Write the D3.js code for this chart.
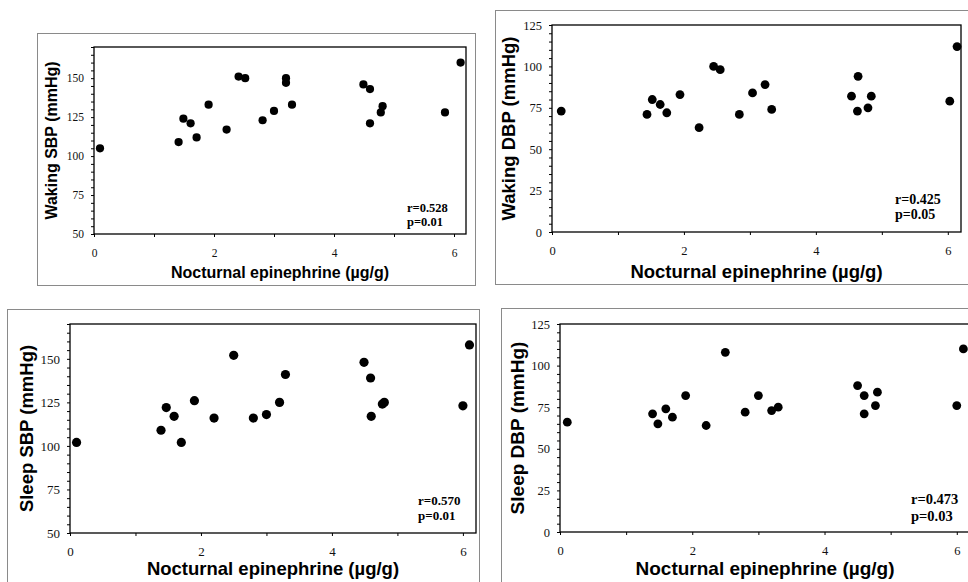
<!DOCTYPE html>
<html>
<head>
<meta charset="utf-8">
<script src="https://cdn.jsdelivr.net/npm/d3@7"></script>
<style>
  body { margin: 0; background: #fff; }
  svg { display: block; }
</style>
</head>
<body>
<svg id="chart" width="968" height="582"></svg>
<script>
  // nocturnal epinephrine (x) vs blood pressure (y), one pair of arrays per panel
  var wakeSbpX = [0.1, 1.41, 1.49, 1.61, 1.71, 1.91, 2.21, 2.41, 2.52, 2.81, 3.0, 3.2, 3.2, 3.3, 4.49, 4.6, 4.6, 4.78, 4.81, 5.85, 6.11];
  var wakeSbpY = [105, 109, 124, 121, 112, 133, 117, 151, 150, 123, 129, 150, 147, 133, 146, 143, 121, 128, 132, 128, 160];

  var wakeDbpX = [0.14, 1.44, 1.52, 1.64, 1.74, 1.94, 2.23, 2.45, 2.55, 2.84, 3.04, 3.23, 3.33, 4.54, 4.63, 4.64, 4.79, 4.84, 6.03, 6.14];
  var wakeDbpY = [73, 71, 80, 77, 72, 83, 63, 100, 98, 71, 84, 89, 74, 82, 73, 94, 75, 82, 79, 112];

  var sleepSbpX = [0.1, 1.39, 1.47, 1.59, 1.7, 1.9, 2.2, 2.5, 2.8, 3.0, 3.2, 3.29, 4.49, 4.59, 4.6, 4.77, 4.8, 6.0, 6.1];
  var sleepSbpY = [102, 109, 122, 117, 102, 126, 116, 152, 116, 118, 125, 141, 148, 139, 117, 124, 125, 123, 158];

  var sleepDbpX = [0.11, 1.4, 1.48, 1.6, 1.7, 1.9, 2.21, 2.5, 2.8, 3.0, 3.2, 3.3, 4.5, 4.6, 4.6, 4.77, 4.8, 6.0, 6.1];
  var sleepDbpY = [66, 71, 65, 74, 69, 82, 64, 108, 72, 82, 73, 75, 88, 82, 71, 76, 84, 76, 110];

  // tick labels and texts
  var xTickLabels = [0, 2, 4, 6];
  var sbpTickLabels = [50, 75, 100, 125, 150];
  var dbpTickLabels = [0, 25, 50, 75, 100, 125];
  var xTitle = "Nocturnal epinephrine (µg/g)";
  var yTitles = ["Waking SBP (mmHg)", "Waking DBP (mmHg)", "Sleep SBP (mmHg)", "Sleep DBP (mmHg)"];
  var rTexts = ["r=0.528", "r=0.425", "r=0.570", "r=0.473"];
  var pTexts = ["p=0.01", "p=0.05", "p=0.01", "p=0.03"];

  // layout of each scanned panel
  var panels = [
    { xs: wakeSbpX, ys: wakeSbpY, ticks: sbpTickLabels, yDom: [50, 170],
      l: 94, t: 47, r: 466, b: 234, box: [37, 33, 475, 285],
      title: 16, tick: 11.5, stat: 12.5, dot: 4.1, statDx: 59, statDy: [22, 8], xtDy: 44 },
    { xs: wakeDbpX, ys: wakeDbpY, ticks: dbpTickLabels, yDom: [0, 125],
      l: 552, t: 25, r: 961, b: 232, box: [495, 10, 990, 284],
      title: 18.5, tick: 12.5, stat: 14, dot: 4.4, statDx: 66, statDy: [28, 13], xtDy: 46 },
    { xs: sleepSbpX, ys: sleepSbpY, ticks: sbpTickLabels, yDom: [50, 170],
      l: 70, t: 324, r: 476, b: 533, box: [7, 309, 479, 600],
      title: 18.5, tick: 13, stat: 13, dot: 4.6, statDx: 58, statDy: [28, 13], xtDy: 42 },
    { xs: sleepDbpX, ys: sleepDbpY, ticks: dbpTickLabels, yDom: [0, 125],
      l: 560, t: 324, r: 970, b: 532, box: [501, 308, 990, 600],
      title: 19, tick: 12.5, stat: 14.5, dot: 4.4, statDx: 59, statDy: [28, 11], xtDy: 43 }
  ];

  var svg = d3.select("#chart");

  panels.forEach(function(p, i) {
    var g = svg.append("g");

    // outer frame around the panel
    g.append("rect")
      .attr("x", p.box[0] + 0.5).attr("y", p.box[1] + 0.5)
      .attr("width", p.box[2] - p.box[0]).attr("height", p.box[3] - p.box[1])
      .attr("fill", "none").attr("stroke", "#8a8a8a").attr("stroke-width", 1);

    var x = d3.scaleLinear().domain([0, 6.2]).range([p.l, p.r]);
    var y = d3.scaleLinear().domain(p.yDom).range([p.b, p.t]);

    // y axis: minor ticks every 5, labels every 25
    var yAxis = d3.axisLeft(y)
      .tickValues(d3.range(p.yDom[0], p.yDom[1] + 1, 5))
      .tickSize(3).tickSizeOuter(0).tickPadding(7)
      .tickFormat(function(d) { return p.ticks.indexOf(d) >= 0 ? d : ""; });
    var ya = g.append("g").attr("transform", "translate(" + p.l + ",0)").call(yAxis);
    ya.select(".domain").remove();
    ya.selectAll("text").style("font-family", "'Liberation Serif', serif")
      .style("font-size", p.tick + "px").attr("fill", "#111");

    // x axis: ticks every 1, labels every 2
    var xAxis = d3.axisBottom(x)
      .tickValues([0, 1, 2, 3, 4, 5, 6])
      .tickSize(3).tickSizeOuter(0)
      .tickFormat(function(d) { return xTickLabels.indexOf(d) >= 0 ? d : ""; });
    var xa = g.append("g").attr("transform", "translate(0," + p.b + ")").call(xAxis);
    xa.select(".domain").remove();
    xa.selectAll("text").attr("dy", null).attr("y", 23)
      .style("font-family", "'Liberation Serif', serif")
      .style("font-size", p.tick + "px").attr("fill", "#111");

    // plot frame
    g.append("rect")
      .attr("x", p.l).attr("y", p.t)
      .attr("width", p.r - p.l).attr("height", p.b - p.t)
      .attr("fill", "none").attr("stroke", "#000").attr("stroke-width", 1.3);

    // points
    g.selectAll("circle")
      .data(p.xs.map(function(v, k) { return [v, p.ys[k]]; }))
      .join("circle")
      .attr("cx", d => x(d[0]))
      .attr("cy", d => y(d[1]))
      .attr("r", p.dot)
      .attr("fill", "#000");

    // axis titles
    g.append("text")
      .attr("x", (p.l + p.r) / 2).attr("y", p.b + p.xtDy)
      .attr("text-anchor", "middle")
      .style("font-family", "'Liberation Sans', Arial, sans-serif")
      .style("font-weight", "bold").style("font-size", p.title + "px")
      .text(xTitle);

    g.append("text")
      .attr("transform", "translate(" + (p.l - 43) + "," + ((p.t + p.b) / 2) + ") rotate(-90)")
      .attr("dy", "0.35em")
      .attr("text-anchor", "middle")
      .style("font-family", "'Liberation Sans', Arial, sans-serif")
      .style("font-weight", "bold").style("font-size", p.title + "px")
      .text(yTitles[i]);

    // correlation stats
    [rTexts[i], pTexts[i]].forEach(function(s, k) {
      g.append("text")
        .attr("x", p.r - p.statDx).attr("y", p.b - p.statDy[k])
        .style("font-family", "'Liberation Serif', serif")
        .style("font-weight", "bold").style("font-size", p.stat + "px")
        .text(s);
    });
  });
</script>
</body>
</html>
